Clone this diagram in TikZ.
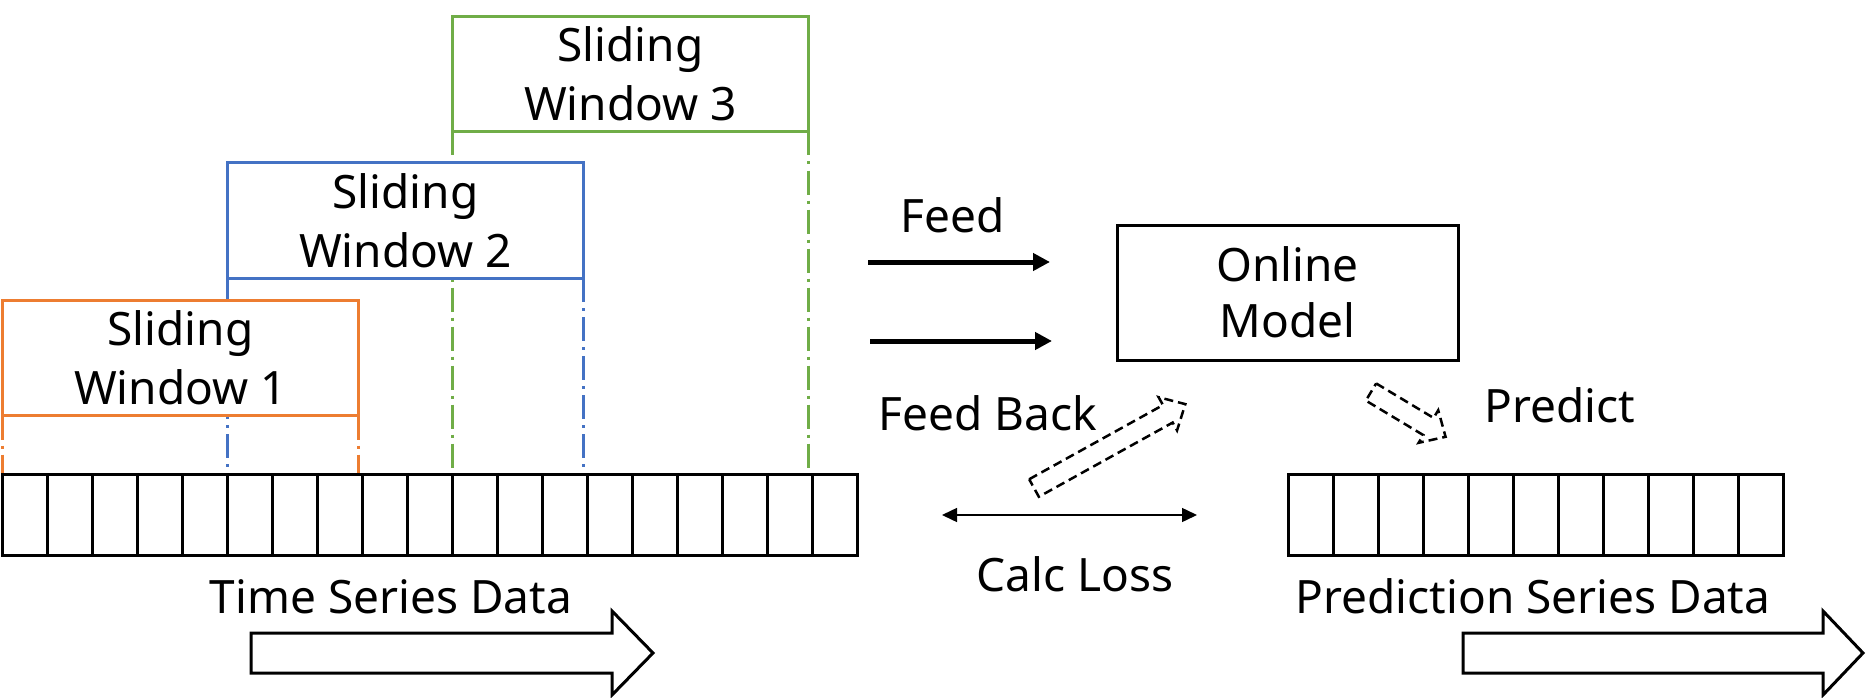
\documentclass[tikz,border=0pt]{standalone}
\usepackage{fontspec}
\setmainfont{Noto Sans}
\usetikzlibrary{arrows.meta}

\definecolor{winorange}{HTML}{ED7D31}
\definecolor{winblue}{HTML}{4472C4}
\definecolor{wingreen}{HTML}{70AD47}

\begin{document}
\begin{tikzpicture}[x=1pt, y=-1pt, >=Stealth,
  every node/.style={font=\fontsize{46}{59}\selectfont, inner sep=0pt, outer sep=0pt},
  window/.style={draw=#1, line width=3pt, fill=white, minimum width=356pt, minimum height=115pt, align=center},
  guide/.style={draw=#1, line width=3pt, dash pattern=on 24pt off 6pt on 3pt off 6pt},
  cell/.style={draw, line width=3pt},
  hollow/.style={draw, line width=3pt, line join=miter},
  flow/.style={line width=2.5pt, dash pattern=on 9pt off 5pt, line join=miter}]

\useasboundingbox (0,0) rectangle (1866,698);

% Top edge of the data rows
\coordinate (tstop) at (0,474);

% Sliding windows (drawn back to front)
\node[window=wingreen] (win3) at (630.5,74) {Sliding\\Window 3};
\draw[guide=wingreen] (win3.south west) -- (win3.south west |- tstop);
\draw[guide=wingreen] (win3.south east) -- (win3.south east |- tstop);

\node[window=winblue] (win2) at (405.5,220.5) {Sliding\\Window 2};
\draw[guide=winblue] (win2.south west) -- (win2.south west |- tstop);
\draw[guide=winblue] (win2.south east) -- (win2.south east |- tstop);

\node[window=winorange] (win1) at (180.5,358) {Sliding\\Window 1};
\draw[guide=winorange] (win1.south west) -- (win1.south west |- tstop);
\draw[guide=winorange] (win1.south east) -- (win1.south east |- tstop);

% Time series cells
\foreach \k in {0,...,18}
  \draw[cell] (2+45*\k,474) rectangle ++(45,81);
\node[anchor=base] (tslbl) at (391,613) {Time Series Data};
\draw[hollow] (251,633) -- (612,633) -- (612,611) -- (653,653) -- (612,695) -- (612,673) -- (251,673) -- cycle;

% Model
\node[draw, line width=3pt, minimum width=341pt, minimum height=135pt, align=center,
  font=\fontsize{46}{56}\selectfont] (model) at (1287.5,292.5) {Online\\Model};

% Feed
\node[anchor=base] (feedlbl) at (953,232) {Feed};
\coordinate (feedA) at (868,262);
\coordinate (feedB) at (870,341);
\draw[-{Triangle[length=17pt,width=17pt]}, line width=5pt] (feedA) -- ++(182,0);
\draw[-{Triangle[length=17pt,width=17pt]}, line width=5pt] (feedB) -- ++(182,0);

% Feed back
\node[anchor=base] (backlbl) at (988,430) {Feed Back};
\begin{scope}[shift={(1034,488)}, rotate=29]
  \draw[flow] (0,-10) -- (153,-10) -- (153,-19) -- (173,0) -- (153,19) -- (153,10) -- (0,10) -- cycle;
\end{scope}

% Loss
\coordinate (lossL) at (942,515);
\coordinate (lossR) at (1197,515);
\draw[{Triangle[length=15pt,width=14pt]}-{Triangle[length=15pt,width=14pt]}, line width=1.5pt] (lossL) -- (lossR);
\node[anchor=base] (losslbl) at (1075,591) {Calc Loss};

% Predict
\node[anchor=base] (predlbl) at (1560,422) {Predict};
\begin{scope}[shift={(1371,392)}, rotate=-31]
  \draw[flow] (0,-10) -- (67,-10) -- (67,-19) -- (87,0) -- (67,19) -- (67,10) -- (0,10) -- cycle;
\end{scope}

% Prediction series cells
\foreach \k in {0,...,10}
  \draw[cell] (1288+45*\k,474) rectangle ++(45,81);
\node[anchor=base] (pslbl) at (1533,613) {Prediction Series Data};
\draw[hollow] (1463,633) -- (1823,633) -- (1823,611) -- (1863,653) -- (1823,695) -- (1823,673) -- (1463,673) -- cycle;

\end{tikzpicture}
\end{document}
